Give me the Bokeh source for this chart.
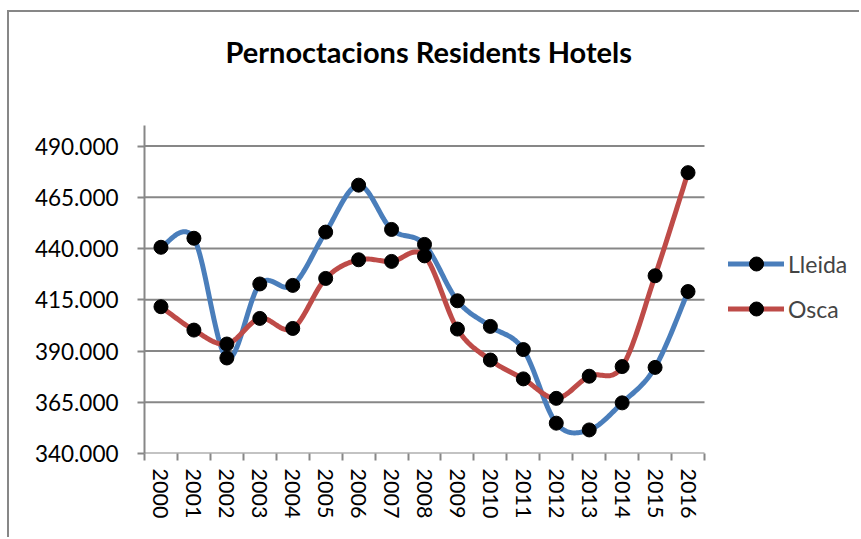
import numpy as np
from bokeh.plotting import figure
from bokeh.models import FixedTicker, Range1d, Legend, LegendItem
from bokeh.embed import file_html
from bokeh.resources import INLINE

# ---- data ----
years = [2000, 2001, 2002, 2003, 2004, 2005, 2006, 2007, 2008,
         2009, 2010, 2011, 2012, 2013, 2014, 2015, 2016]
lleida = [440600, 445000, 386600, 422700, 422000, 448000, 470900, 449300, 442000,
          414500, 402000, 390700, 354800, 351500, 364700, 382000, 419000]
osca = [411600, 400200, 393400, 405900, 401000, 425400, 434500, 433700, 436400,
        400700, 385600, 376400, 366900, 377700, 382400, 426700, 477000]
y_ticks = [340000, 365000, 390000, 415000, 440000, 465000, 490000]
y_tick_labels = ["340.000", "365.000", "390.000", "415.000", "440.000", "465.000", "490.000"]
series_names = ["Lleida", "Osca"]
title_text = "Pernoctacions Residents Hotels"

BLUE = "#4A7EBB"
RED = "#BE4B48"
GRAY = "#878787"
FONT = "Lato"


def smooth(xs, ys, n=24):
    """Excel-like smoothed line (Catmull-Rom Bezier through the data points)."""
    P = np.column_stack([xs, ys]).astype(float)
    E = np.vstack([P[0], P, P[-1]])
    t = np.linspace(0, 1, n)[:, None]
    out = []
    for i in range(len(P) - 1):
        p0, p1, p2, p3 = E[i], E[i + 1], E[i + 2], E[i + 3]
        c1 = p1 + (p2 - p0) / 6.0
        c2 = p2 - (p3 - p1) / 6.0
        seg = (1 - t) ** 3 * p1 + 3 * (1 - t) ** 2 * t * c1 + 3 * (1 - t) * t ** 2 * c2 + t ** 3 * p2
        out.append(seg if i == 0 else seg[1:])
    S = np.vstack(out)
    return S[:, 0], S[:, 1]


# layout (pixels)
W, H = 852, 527
LEFT, TOP, BOTTOM = 135, 113, 86
plot_w = 560                      # width of the data area (the 17 categories)
frame_w = W - LEFT                # frame extended to hold the legend
x0 = years[0] - 0.5
x1 = years[-1] + 0.5
x_end = x0 + (x1 - x0) * frame_w / plot_w

p = figure(width=W, height=H, output_backend="svg", toolbar_location=None,
           x_range=Range1d(x0, x_end),
           y_range=Range1d(340000, 500000),
           min_border_left=LEFT, min_border_right=0,
           min_border_top=TOP, min_border_bottom=BOTTOM)
p.styles = {"border-left": f"2px solid {GRAY}", "border-top": f"2px solid {GRAY}",
            "margin-left": "7px", "margin-top": "10px"}
p.outline_line_color = None
p.background_fill_color = "white"
p.border_fill_color = "white"

# title (an empty second line lifts it up within the top band)
p.title.text = title_text + "\n "
p.title.align = "left"
p.title.vertical_align = "top"
p.title.standoff = 0
p.title.padding = 20
p.title.offset = 81 - 20
p.title.text_font = FONT
p.title.text_font_style = "bold"
p.title.text_font_size = "29px"
p.title.text_color = "black"

# axes
bounds = [y - 0.5 for y in years] + [years[-1] + 0.5]
p.xaxis.ticker = FixedTicker(ticks=years, minor_ticks=bounds)
p.xaxis.major_label_overrides = {y: str(y) for y in years}
p.xaxis.major_label_orientation = "vertical"
p.xaxis.axis_line_color = None
p.xaxis.major_tick_out = 0
p.xaxis.major_tick_in = 0
p.xaxis.minor_tick_out = 7
p.xaxis.minor_tick_in = 0
p.xaxis.minor_tick_line_color = GRAY
p.xaxis.minor_tick_line_width = 2
p.xaxis.major_label_standoff = 8
p.xaxis.major_label_text_font_size = "21.5px"

p.yaxis.ticker = FixedTicker(ticks=y_ticks)
p.yaxis.major_label_overrides = {v: s for v, s in zip(y_ticks, y_tick_labels)}
p.yaxis.axis_line_color = GRAY
p.yaxis.axis_line_width = 2
p.yaxis.major_tick_out = 7
p.yaxis.major_tick_in = 0
p.yaxis.minor_tick_line_color = None
p.yaxis.major_tick_line_color = GRAY
p.yaxis.major_tick_line_width = 2
p.yaxis.major_label_standoff = 19
p.yaxis.major_label_text_font_size = "22.5px"

for ax in (p.xaxis, p.yaxis):
    ax.major_label_text_font = FONT
    ax.major_label_text_color = "black"

# horizontal gridlines only across the category area
p.xgrid.visible = False
p.ygrid.visible = False
p.segment(x0=[x0] * len(y_ticks), x1=[x1] * len(y_ticks), y0=y_ticks, y1=y_ticks,
          line_color=GRAY, line_width=2)

# series
items = []
for name, vals, col in zip(series_names, [lleida, osca], [BLUE, RED]):
    sx, sy = smooth(years, vals)
    lr = p.line(sx, sy, line_color=col, line_width=5, line_join="round", line_cap="round")
    sr = p.scatter(years, vals, size=14, fill_color="black", line_color="black", marker="circle")
    items.append(LegendItem(label=name, renderers=[lr, sr]))

legend = Legend(items=items, location=(584, 127), orientation="vertical",
                glyph_width=56, glyph_height=35, label_standoff=4,
                label_text_font=FONT, label_text_font_size="23px",
                label_height=35, spacing=10, padding=0, margin=0,
                border_line_color=None, background_fill_alpha=0)
p.add_layout(legend, "center")

open("out.html", "w").write(file_html(p, INLINE))
